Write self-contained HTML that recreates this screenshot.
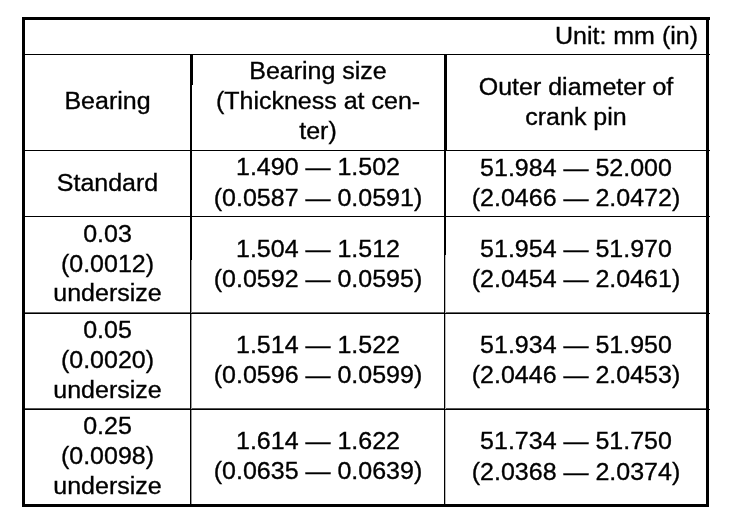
<!DOCTYPE html>
<html><head><meta charset="utf-8"><title>Connecting rod bearing table</title>
<style>
html,body{margin:0;padding:0;background:#fff;}
body{width:752px;height:528px;position:relative;overflow:hidden;}
.r{position:absolute;background:#000;}
.t{position:absolute;white-space:nowrap;text-align:center;font-family:"Liberation Sans",Arial,Helvetica,sans-serif;font-size:25px;line-height:30px;height:30px;color:#000;-webkit-text-stroke:0.35px #000;transform:scaleY(0.955);transform-origin:50% 23.7px;}
.u{text-align:right;}
</style></head><body>

<div class="r" style="left:25px;top:312px;width:681px;height:1px;background:#666"></div>
<div class="r" style="left:25px;top:408px;width:681px;height:1px;background:#555"></div>
<div class="r" style="left:191px;top:260px;width:1px;height:246px;background:#999"></div>
<div class="r" style="left:445px;top:255px;width:1px;height:251px;background:#bbb"></div>
<div class="r" style="left:22px;top:17px;width:688px;height:3px"></div>
<div class="r" style="left:22px;top:504px;width:687px;height:3px"></div>
<div class="r" style="left:22px;top:17px;width:3px;height:490px"></div>
<div class="r" style="left:706px;top:17px;width:3px;height:490px"></div>
<div class="r" style="left:22px;top:53.9px;width:688px;height:1.2px"></div>
<div class="r" style="left:22px;top:150px;width:688px;height:1.1px"></div>
<div class="r" style="left:22px;top:216px;width:688px;height:1.1px"></div>
<div class="r" style="left:22px;top:313px;width:688px;height:1px"></div>
<div class="r" style="left:22px;top:409px;width:688px;height:1px"></div>
<div class="r" style="left:190px;top:54px;width:3px;height:31px"></div>
<div class="r" style="left:190px;top:85px;width:2px;height:131px"></div>
<div class="r" style="left:190px;top:216px;width:2px;height:44px"></div>
<div class="r" style="left:190px;top:260px;width:1px;height:246px"></div>
<div class="r" style="left:444px;top:54px;width:3px;height:96px"></div>
<div class="r" style="left:444px;top:150px;width:2px;height:105px"></div>
<div class="r" style="left:444px;top:255px;width:1px;height:251px"></div>
<div class="t u" style="left:400px;width:298px;top:19.8px">Unit: mm (in)</div>
<div class="t" style="left:25px;width:165px;top:85.2px">Bearing</div>
<div class="t" style="left:192px;width:252px;top:55px">Bearing size</div>
<div class="t" style="left:192px;width:252px;top:84.9px">(Thickness at cen-</div>
<div class="t" style="left:192px;width:252px;top:115.1px">ter)</div>
<div class="t" style="left:446px;width:260px;top:70.8px">Outer diameter of</div>
<div class="t" style="left:446px;width:260px;top:100.5px">crank pin</div>
<div class="t" style="left:25px;width:165px;top:167px">Standard</div>
<div class="t" style="left:192px;width:252px;top:150.8px">1.490 &mdash; 1.502</div>
<div class="t" style="left:192px;width:252px;top:182px">(0.0587 &mdash; 0.0591)</div>
<div class="t" style="left:446px;width:260px;top:151.6px">51.984 &mdash; 52.000</div>
<div class="t" style="left:446px;width:260px;top:181.5px">(2.0466 &mdash; 2.0472)</div>
<div class="t" style="left:25px;width:165px;top:218.4px">0.03</div>
<div class="t" style="left:25px;width:165px;top:248px">(0.0012)</div>
<div class="t" style="left:25px;width:165px;top:276.9px">undersize</div>
<div class="t" style="left:192px;width:252px;top:232.8px">1.504 &mdash; 1.512</div>
<div class="t" style="left:192px;width:252px;top:262.5px">(0.0592 &mdash; 0.0595)</div>
<div class="t" style="left:446px;width:260px;top:232.7px">51.954 &mdash; 51.970</div>
<div class="t" style="left:446px;width:260px;top:263.3px">(2.0454 &mdash; 2.0461)</div>
<div class="t" style="left:25px;width:165px;top:314.4px">0.05</div>
<div class="t" style="left:25px;width:165px;top:344px">(0.0020)</div>
<div class="t" style="left:25px;width:165px;top:373.6px">undersize</div>
<div class="t" style="left:192px;width:252px;top:328.8px">1.514 &mdash; 1.522</div>
<div class="t" style="left:192px;width:252px;top:358.5px">(0.0596 &mdash; 0.0599)</div>
<div class="t" style="left:446px;width:260px;top:328.7px">51.934 &mdash; 51.950</div>
<div class="t" style="left:446px;width:260px;top:359.3px">(2.0446 &mdash; 2.0453)</div>
<div class="t" style="left:25px;width:165px;top:409.9px">0.25</div>
<div class="t" style="left:25px;width:165px;top:440.2px">(0.0098)</div>
<div class="t" style="left:25px;width:165px;top:469.6px">undersize</div>
<div class="t" style="left:192px;width:252px;top:424.8px">1.614 &mdash; 1.622</div>
<div class="t" style="left:192px;width:252px;top:455.2px">(0.0635 &mdash; 0.0639)</div>
<div class="t" style="left:446px;width:260px;top:424.7px">51.734 &mdash; 51.750</div>
<div class="t" style="left:446px;width:260px;top:455.8px">(2.0368 &mdash; 2.0374)</div>
</body></html>
